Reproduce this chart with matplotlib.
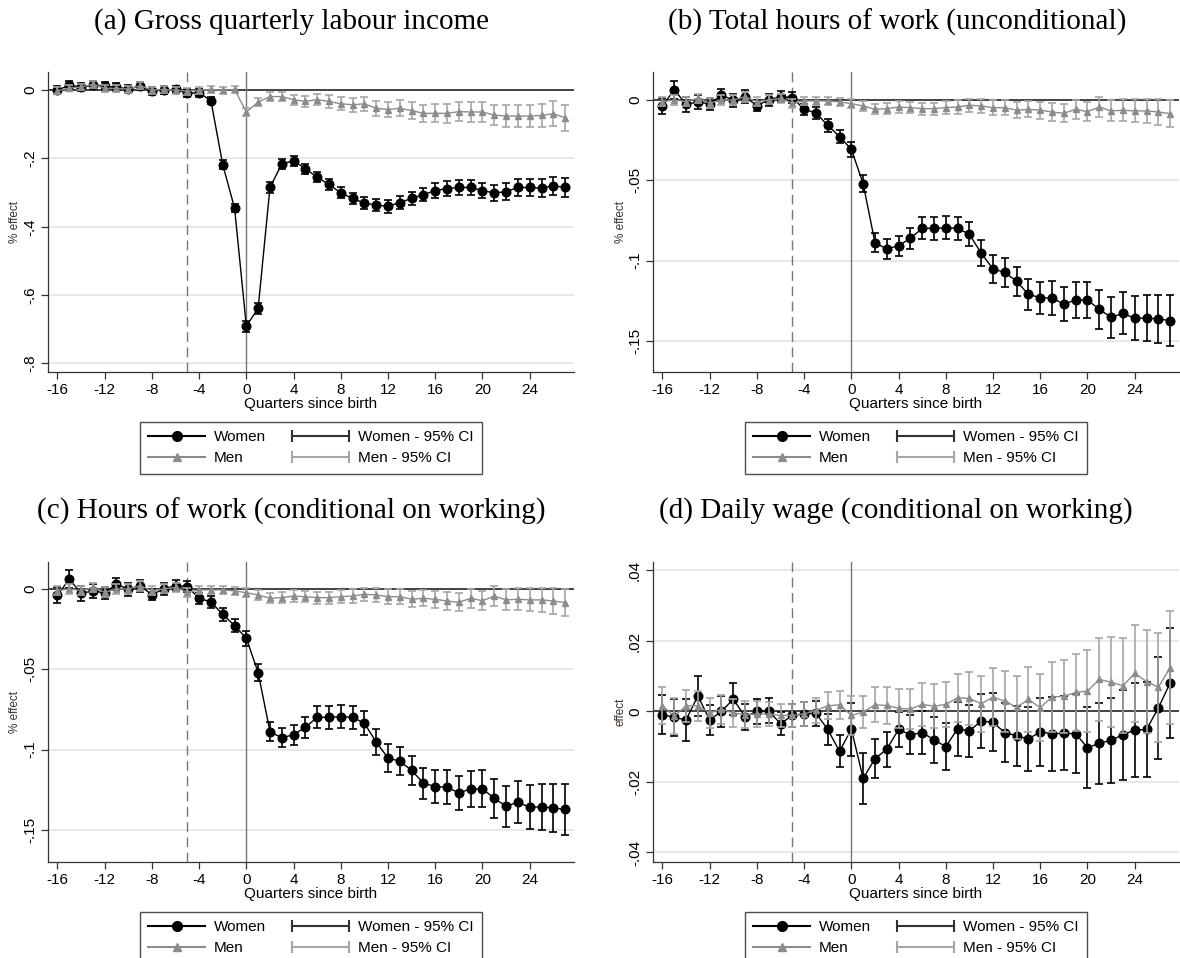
import numpy as np
import matplotlib
matplotlib.use("Agg")
import matplotlib.pyplot as plt
from matplotlib.lines import Line2D
from matplotlib.legend_handler import HandlerLine2D

plt.rcParams['font.family'] = ['Liberation Sans', 'DejaVu Sans']

quarters = list(range(-16, 28))
xticks = [-16, -12, -8, -4, 0, 4, 8, 12, 16, 20, 24]

# ---- (a) Gross quarterly labour income ----
a_women = [0.000, 0.014, 0.009, 0.014, 0.011, 0.008, 0.004, 0.011, -0.002, 0.000, 0.002, -0.009,
           -0.008, -0.031, -0.218, -0.345, -0.691, -0.638, -0.285, -0.216, -0.207, -0.230, -0.255,
           -0.276, -0.301, -0.317, -0.331, -0.336, -0.340, -0.329, -0.317, -0.306, -0.294, -0.288,
           -0.285, -0.285, -0.294, -0.301, -0.297, -0.285, -0.285, -0.287, -0.280, -0.285]
a_women_ci = [0.012, 0.012, 0.012, 0.012, 0.012, 0.012, 0.012, 0.012, 0.011, 0.011, 0.011, 0.011,
              0.011, 0.010, 0.013, 0.013, 0.016, 0.016, 0.015, 0.014, 0.014, 0.015, 0.015,
              0.016, 0.016, 0.017, 0.018, 0.018, 0.019, 0.019, 0.020, 0.020, 0.021, 0.022,
              0.022, 0.023, 0.023, 0.024, 0.025, 0.025, 0.026, 0.026, 0.027, 0.028]
a_men = [-0.002, 0.006, 0.009, 0.017, 0.005, 0.005, 0.003, 0.013, 0.000, 0.002, 0.000, -0.003,
         0.000, 0.002, 0.000, 0.002, -0.064, -0.035, -0.019, -0.019, -0.028, -0.033, -0.028,
         -0.033, -0.040, -0.043, -0.040, -0.053, -0.057, -0.053, -0.060, -0.068, -0.068, -0.068,
         -0.063, -0.064, -0.064, -0.073, -0.076, -0.076, -0.076, -0.074, -0.069, -0.081]
a_men_ci = [0.010, 0.010, 0.010, 0.010, 0.010, 0.010, 0.010, 0.010, 0.010, 0.010, 0.010, 0.010,
            0.010, 0.010, 0.010, 0.010, 0.012, 0.012, 0.013, 0.014, 0.015, 0.016, 0.017,
            0.018, 0.019, 0.020, 0.021, 0.022, 0.022, 0.023, 0.024, 0.025, 0.026, 0.027,
            0.028, 0.029, 0.029, 0.030, 0.031, 0.032, 0.033, 0.034, 0.036, 0.038]

# ---- (b) Total hours of work (unconditional) ----
b_women = [-0.0037, 0.0064, -0.0027, -0.0012, -0.0025, 0.0031, -0.0002, 0.0019, -0.0035, 0.0000,
           0.0021, 0.0015, -0.0058, -0.0081, -0.0158, -0.0228, -0.0307, -0.0521, -0.0888, -0.0927,
           -0.0907, -0.0861, -0.0799, -0.0799, -0.0795, -0.0799, -0.0836, -0.0954, -0.1052, -0.1073,
           -0.1129, -0.1210, -0.1230, -0.1234, -0.1270, -0.1245, -0.1245, -0.1303, -0.1353, -0.1328,
           -0.1359, -0.1357, -0.1363, -0.1373]
b_women_ci = [0.0050, 0.0055, 0.0045, 0.0045, 0.0040, 0.0040, 0.0040, 0.0040, 0.0035, 0.0035,
              0.0035, 0.0035, 0.0035, 0.0038, 0.0040, 0.0042, 0.0048, 0.0052, 0.0058, 0.0060,
              0.0062, 0.0065, 0.0068, 0.0070, 0.0072, 0.0073, 0.0075, 0.0080, 0.0085, 0.0088,
              0.0092, 0.0095, 0.0100, 0.0105, 0.0108, 0.0112, 0.0115, 0.0120, 0.0127, 0.0130,
              0.0137, 0.0142, 0.0148, 0.0158]
b_men = [-0.0010, 0.0000, -0.0010, 0.0010, -0.0020, 0.0000, 0.0000, 0.0020, -0.0010, 0.0000,
         0.0010, -0.0020, -0.0006, -0.0006, -0.0006, -0.0012, -0.0023, -0.0037, -0.0058, -0.0054,
         -0.0044, -0.0048, -0.0054, -0.0054, -0.0048, -0.0044, -0.0033, -0.0037, -0.0048, -0.0048,
         -0.0064, -0.0058, -0.0064, -0.0075, -0.0083, -0.0058, -0.0073, -0.0044, -0.0068, -0.0064,
         -0.0068, -0.0068, -0.0075, -0.0085]
b_men_ci = [0.0030, 0.0030, 0.0030, 0.0030, 0.0030, 0.0030, 0.0030, 0.0030, 0.0028, 0.0028,
            0.0028, 0.0028, 0.0026, 0.0026, 0.0026, 0.0027, 0.0028, 0.0030, 0.0032, 0.0034,
            0.0035, 0.0036, 0.0037, 0.0038, 0.0040, 0.0041, 0.0042, 0.0044, 0.0045, 0.0047,
            0.0049, 0.0050, 0.0052, 0.0054, 0.0056, 0.0058, 0.0060, 0.0062, 0.0065, 0.0068,
            0.0072, 0.0076, 0.0080, 0.0085]

# ---- (c) Hours of work (conditional on working) ----
c_women = [-0.0040, 0.0062, -0.0027, -0.0012, -0.0025, 0.0031, -0.0002, 0.0019, -0.0035, 0.0000,
           0.0021, 0.0015, -0.0058, -0.0081, -0.0158, -0.0228, -0.0307, -0.0521, -0.0888, -0.0927,
           -0.0907, -0.0861, -0.0799, -0.0799, -0.0795, -0.0799, -0.0836, -0.0954, -0.1052, -0.1073,
           -0.1129, -0.1210, -0.1230, -0.1234, -0.1270, -0.1245, -0.1245, -0.1303, -0.1353, -0.1328,
           -0.1359, -0.1357, -0.1363, -0.1373]
c_women_ci = b_women_ci
c_men = b_men
c_men_ci = b_men_ci

# ---- (d) Daily wage (conditional on working) ----
d_women = [-0.0009, -0.0017, -0.0024, 0.0044, -0.0024, 0.0000, 0.0035, -0.0015, 0.0000, 0.0002,
           -0.0035, -0.0011, -0.0007, -0.0005, -0.0051, -0.0113, -0.0050, -0.0190, -0.0134, -0.0107,
           -0.0051, -0.0066, -0.0060, -0.0080, -0.0100, -0.0049, -0.0055, -0.0027, -0.0031, -0.0060,
           -0.0069, -0.0078, -0.0058, -0.0063, -0.0062, -0.0063, -0.0103, -0.0090, -0.0082, -0.0066,
           -0.0053, -0.0051, 0.0010, 0.0081]
d_women_ci = [0.0055, 0.0053, 0.0060, 0.0058, 0.0043, 0.0043, 0.0046, 0.0037, 0.0035, 0.0035,
              0.0033, 0.0033, 0.0033, 0.0036, 0.0045, 0.0045, 0.0075, 0.0072, 0.0055, 0.0050,
              0.0050, 0.0055, 0.0060, 0.0065, 0.0066, 0.0076, 0.0074, 0.0077, 0.0082, 0.0083,
              0.0085, 0.0090, 0.0096, 0.0105, 0.0105, 0.0112, 0.0115, 0.0115, 0.0120, 0.0128,
              0.0133, 0.0136, 0.0145, 0.0155]
d_men = [0.0016, -0.0013, 0.0016, 0.0016, -0.0004, 0.0006, -0.0004, -0.0009, -0.0007, -0.0007,
         -0.0011, -0.0011, -0.0007, 0.0003, 0.0016, 0.0019, -0.0011, -0.0002, 0.0019, 0.0017,
         0.0009, 0.0007, 0.0020, 0.0015, 0.0020, 0.0039, 0.0037, 0.0022, 0.0041, 0.0029,
         0.0012, 0.0034, 0.0011, 0.0041, 0.0043, 0.0054, 0.0058, 0.0091, 0.0083, 0.0073,
         0.0108, 0.0085, 0.0069, 0.0124]
d_men_ci = [0.0052, 0.0050, 0.0045, 0.0043, 0.0042, 0.0042, 0.0040, 0.0038, 0.0036, 0.0034,
            0.0032, 0.0032, 0.0034, 0.0036, 0.0038, 0.0040, 0.0055, 0.0045, 0.0050, 0.0052,
            0.0055, 0.0058, 0.0062, 0.0062, 0.0065, 0.0068, 0.0075, 0.0080, 0.0083, 0.0087,
            0.0090, 0.0092, 0.0095, 0.0098, 0.0103, 0.0110, 0.0115, 0.0118, 0.0128, 0.0135,
            0.0138, 0.0145, 0.0155, 0.0160]

panels = [
    dict(title="(a) Gross quarterly labour income", women=a_women, wci=a_women_ci, men=a_men, mci=a_men_ci,
         yticks=[0, -0.2, -0.4, -0.6, -0.8], ylabels=["0", "-.2", "-.4", "-.6", "-.8"],
         ylim=(-0.825, 0.053), ylabel="% effect", pos=(48, 72), tx=291, ty=22),
    dict(title="(b) Total hours of work (unconditional)", women=b_women, wci=b_women_ci, men=b_men, mci=b_men_ci,
         yticks=[0, -0.05, -0.1, -0.15], ylabels=["0", "-.05", "-.1", "-.15"],
         ylim=(-0.1693, 0.0174), ylabel="% effect", pos=(653, 72), tx=897, ty=22),
    dict(title="(c) Hours of work (conditional on working)", women=c_women, wci=c_women_ci, men=c_men, mci=c_men_ci,
         yticks=[0, -0.05, -0.1, -0.15], ylabels=["0", "-.05", "-.1", "-.15"],
         ylim=(-0.170, 0.0168), ylabel="% effect", pos=(48, 562), tx=291, ty=511),
    dict(title="(d) Daily wage (conditional on working)", women=d_women, wci=d_women_ci, men=d_men, mci=d_men_ci,
         yticks=[0.04, 0.02, 0, -0.02, -0.04], ylabels=[".04", ".02", "0", "-.02", "-.04"],
         ylim=(-0.0427, 0.0424), ylabel="effect", pos=(653, 562), tx=896, ty=511),
]

W, H = 1180, 958
fig = plt.figure(figsize=(W / 100, H / 100), dpi=100)
fig.patch.set_facecolor('white')

AXW, AXH = 526, 300
WOMEN_C = 'black'
MEN_C = '#8c8c8c'
MEN_CI_C = '#a6a6a6'
SPINE_C = '#333333'

for p in panels:
    left, top = p['pos']
    ax = fig.add_axes([left / W, 1 - (top + AXH) / H, AXW / W, AXH / H])
    x = np.array(quarters)
    ax.set_xlim(-16.8, 27.75)
    ax.set_ylim(*p['ylim'])

    # grid lines
    for yt in p['yticks']:
        if yt != 0:
            ax.axhline(yt, color='#e6e6e6', lw=1.3, zorder=0)
    ax.axhline(0, color='#222222', lw=1.2, zorder=1)
    ax.axvline(-5, color='#777777', lw=1.0, ls=(0, (7, 4)), zorder=1)
    ax.axvline(0, color='#777777', lw=1.0, zorder=1)

    # women
    ax.errorbar(x, p['women'], yerr=p['wci'], fmt='none', ecolor=WOMEN_C, elinewidth=1.2,
                capsize=3.2, capthick=1.2, zorder=3)
    ax.plot(x, p['women'], color=WOMEN_C, lw=1.0, marker='o', markersize=6.2, zorder=4)
    # men
    ax.errorbar(x, p['men'], yerr=p['mci'], fmt='none', ecolor=MEN_CI_C, elinewidth=1.2,
                capsize=3.2, capthick=1.2, zorder=5)
    ax.plot(x, p['men'], color=MEN_C, lw=1.0, marker='^', markersize=4.6, zorder=6)

    ax.set_xticks(xticks)
    ax.set_xticklabels([str(t) for t in xticks], fontsize=11)
    ax.set_yticks(p['yticks'])
    ax.set_yticklabels(p['ylabels'], fontsize=11, rotation=90, va='center')
    ax.tick_params(axis='both', direction='out', length=5, width=0.9, color=SPINE_C, pad=3)
    for s in ['top', 'right']:
        ax.spines[s].set_visible(False)
    for s in ['left', 'bottom']:
        ax.spines[s].set_color(SPINE_C)
        ax.spines[s].set_linewidth(0.9)
    ax.set_xlabel("Quarters since birth", fontsize=11, labelpad=0)
    ax.set_ylabel(p['ylabel'], fontsize=8.5, color='#3a3028', labelpad=1)

    fig.text(p['tx'] / W, 1 - p['ty'] / H, p['title'], ha='center', va='center',
             fontsize=21, family=['Liberation Serif', 'DejaVu Serif'])

    h_w = Line2D([], [], color=WOMEN_C, lw=1.5, marker='o', markersize=7)
    h_m = Line2D([], [], color=MEN_C, lw=1.5, marker='^', markersize=5.5)
    h_wci = Line2D([], [], color='#333333', lw=1.5, marker='|', markersize=8, markeredgewidth=1.5)
    h_mci = Line2D([], [], color=MEN_CI_C, lw=1.5, marker='|', markersize=8, markeredgewidth=1.5)
    leg = ax.legend([h_w, h_m, h_wci, h_mci], ["Women", "Men", "Women - 95% CI", "Men - 95% CI"],
                    ncol=2, loc='upper center',
                    bbox_to_anchor=((left + AXW / 2) / W, 1 - (top + AXH + 50) / H),
                    bbox_transform=fig.transFigure, borderaxespad=0, fontsize=11, frameon=True,
                    fancybox=False, edgecolor='#222222', handlelength=3.7, handletextpad=0.6,
                    columnspacing=1.7, labelspacing=0.45, borderpad=0.55,
                    handler_map={h_w: HandlerLine2D(numpoints=1), h_m: HandlerLine2D(numpoints=1),
                                 h_wci: HandlerLine2D(numpoints=2, marker_pad=0),
                                 h_mci: HandlerLine2D(numpoints=2, marker_pad=0)})
    leg.get_frame().set_linewidth(1.0)

fig.savefig("out.png", dpi=100)
